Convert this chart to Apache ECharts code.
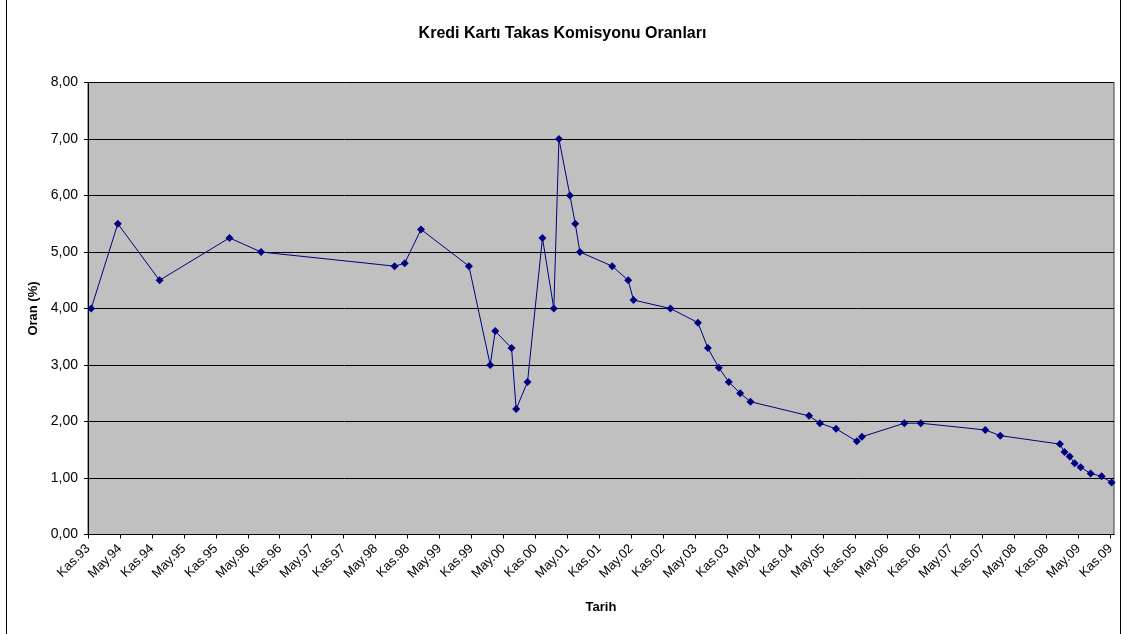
<!DOCTYPE html>
<html>
<head>
<meta charset="utf-8">
<script src="https://cdn.jsdelivr.net/npm/echarts@6/dist/echarts.min.js"></script>
<style>
html,body{margin:0;padding:0;background:#fff;}
#c{width:1125px;height:634px;}
</style>
</head>
<body>
<div id="c"></div>
<script>
// Observation dates (yyyy-mm-dd) and rates (%)
var dates = [
  '1993-11-19','1994-04-19','1994-12-14','1996-01-18','1996-07-16',
  '1998-08-18','1998-10-15','1999-01-17','1999-10-17','2000-02-17',
  '2000-03-15','2000-06-17','2000-07-13','2000-09-17','2000-12-11',
  '2001-02-15','2001-03-14','2001-05-16','2001-06-16','2001-07-12',
  '2002-01-14','2002-04-14','2002-05-14','2002-12-12','2003-05-17',
  '2003-07-13','2003-09-15','2003-11-11','2004-01-15','2004-03-13',
  '2005-02-13','2005-04-14','2005-07-15','2005-11-12','2005-12-11',
  '2006-08-10','2006-11-12','2007-11-16','2008-02-10','2009-01-16',
  '2009-02-12','2009-03-11','2009-04-09','2009-05-13','2009-07-09',
  '2009-09-11','2009-11-07'
];
var rates = [
  4.00, 5.50, 4.50, 5.25, 5.00,
  4.75, 4.80, 5.40, 4.75, 3.00,
  3.60, 3.30, 2.22, 2.70, 5.25,
  4.00, 7.00, 6.00, 5.50, 5.00,
  4.75, 4.50, 4.15, 4.00, 3.75,
  3.30, 2.95, 2.70, 2.50, 2.35,
  2.10, 1.97, 1.87, 1.65, 1.73,
  1.97, 1.97, 1.85, 1.75, 1.60,
  1.46, 1.38, 1.26, 1.19, 1.08,
  1.03, 0.92
];
// Tick labels every 6 months from Kasım 1993 (Kas = Nov, May = May)
var tickLabels = [
  'Kas.93','May.94','Kas.94','May.95','Kas.95','May.96','Kas.96','May.97',
  'Kas.97','May.98','Kas.98','May.99','Kas.99','May.00','Kas.00','May.01',
  'Kas.01','May.02','Kas.02','May.03','Kas.03','May.04','Kas.04','May.05',
  'Kas.05','May.06','Kas.06','May.07','Kas.07','May.08','Kas.08','May.09','Kas.09'
];

// month offset from 1 Nov 1993
function monthOffset(s){
  var p = s.split('-').map(Number);
  return (p[0]-1993)*12 + (p[1]-11) + (p[2]-1)/30;
}
var seriesData = dates.map(function(d,i){ return [monthOffset(d), rates[i]]; });
var tickValues = tickLabels.map(function(_,i){ return i*6; });

var chart = echarts.init(document.getElementById('c'), null, {renderer:'canvas'});
var font = 'Liberation Sans, Arial, sans-serif';
chart.setOption({
  animation:false,
  backgroundColor:'#ffffff',
  title:{
    text:'Kredi Kartı Takas Komisyonu Oranları',
    left:'center', top:21,
    textStyle:{fontFamily:font, fontSize:16, fontWeight:'bold', color:'#000'}
  },
  grid:{
    left:88, right:11, top:82.5, bottom:99.5,
    show:true, backgroundColor:'#C0C0C0', borderColor:'#404040', borderWidth:1
  },
  xAxis:{
    type:'value', min:0, max:192.66,
    name:'Tarih', nameLocation:'middle', nameGap:66,
    nameTextStyle:{fontFamily:font, fontSize:13, fontWeight:'bold', color:'#000'},
    axisLine:{show:true, onZero:false, lineStyle:{color:'#000', width:1}},
    axisTick:{show:true, length:4, inside:false, customValues:tickValues, lineStyle:{color:'#000'}},
    axisLabel:{
      customValues:tickValues,
      rotate:45, margin:12,
      fontFamily:font, fontSize:13, color:'#000',
      formatter:function(v){ var i = Math.round(v/6); return tickLabels[i] || ''; }
    },
    splitLine:{show:false}
  },
  yAxis:{
    type:'value', min:0, max:8, interval:1,
    name:'Oran (%)', nameLocation:'middle', nameGap:47,
    nameTextStyle:{fontFamily:font, fontSize:13, fontWeight:'bold', color:'#000'},
    axisLine:{show:true, lineStyle:{color:'#000', width:1}},
    axisTick:{show:true, length:4, lineStyle:{color:'#000'}},
    axisLabel:{
      fontFamily:font, fontSize:14, color:'#000', margin:10,
      formatter:function(v){ return v.toFixed(2).replace('.', ','); }
    },
    splitLine:{show:true, lineStyle:{color:'#000', width:1}}
  },
  series:[{
    type:'line',
    data:seriesData,
    symbol:'diamond', symbolSize:8,
    lineStyle:{color:'#000080', width:1},
    itemStyle:{color:'#000080'},
    clip:false
  }],
  graphic:[
    {type:'line', shape:{x1:6.5,y1:0,x2:6.5,y2:634}, style:{stroke:'#000', lineWidth:1}},
    {type:'line', shape:{x1:1120.5,y1:0,x2:1120.5,y2:634}, style:{stroke:'#000', lineWidth:1}}
  ]
});
</script>
</body>
</html>
